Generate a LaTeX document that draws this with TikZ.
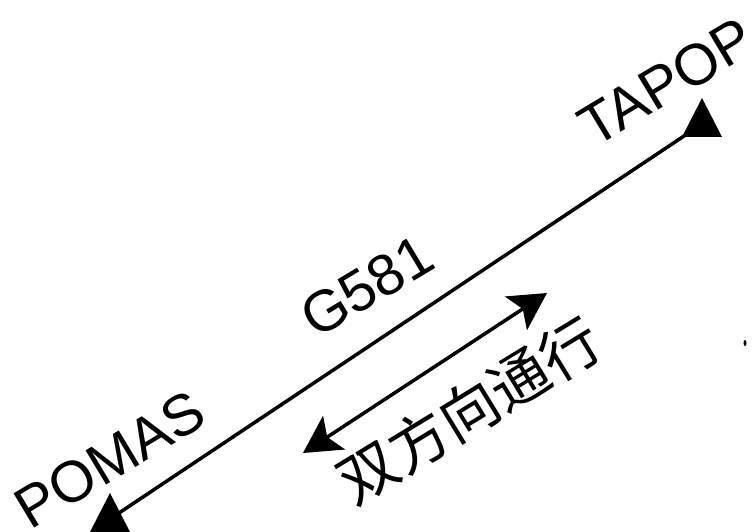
\documentclass[tikz,border=0pt]{standalone}
\usepackage{fontspec}
\setmainfont{Liberation Sans}
\newfontfamily\cjk{Noto Sans CJK SC}
\usetikzlibrary{arrows.meta}
\begin{document}
\begin{tikzpicture}[x=1pt,y=-1pt,
  route/.style={line width=3.5pt,black},
  wpt/.style={fill=black},
  lbl/.style={font=\fontsize{58}{58}\selectfont,inner sep=0pt,anchor=base west,rotate=31},
  twoway/.style={line width=3.5pt,{Stealth[length=37pt,width=40pt,inset=8pt]}-{Stealth[length=37pt,width=40pt,inset=8pt]}}]
\useasboundingbox (0,0) rectangle (755,532);
\coordinate (pomas) at (110,519);
\coordinate (tapop) at (702,124);
\draw[route] (pomas) -- (tapop);
\fill[wpt] ([shift={(0,-26)}]tapop) -- ([shift={(20,13)}]tapop) -- ([shift={(-20,13)}]tapop) -- cycle;
\fill[wpt] ([shift={(0,-26)}]pomas) -- ([shift={(20,13)}]pomas) -- ([shift={(-20,13)}]pomas) -- cycle;
\node[lbl] (tpl) at (594,149) {TAPOP};
\node[lbl] (ppl) at (30,531) {POMAS};
\node[lbl] (gl) at (316,340) {G581};
\coordinate (aw) at (303,453);
\coordinate (ae) at (547,293);
\draw[twoway] (aw) -- (ae);
\node[font=\cjk\fontsize{59}{59}\selectfont,inner sep=0pt,rotate=31.4] (dir) at (469,410) {双方向通行};
\fill (745,343) ellipse (1.5 and 3);
\end{tikzpicture}
\end{document}
